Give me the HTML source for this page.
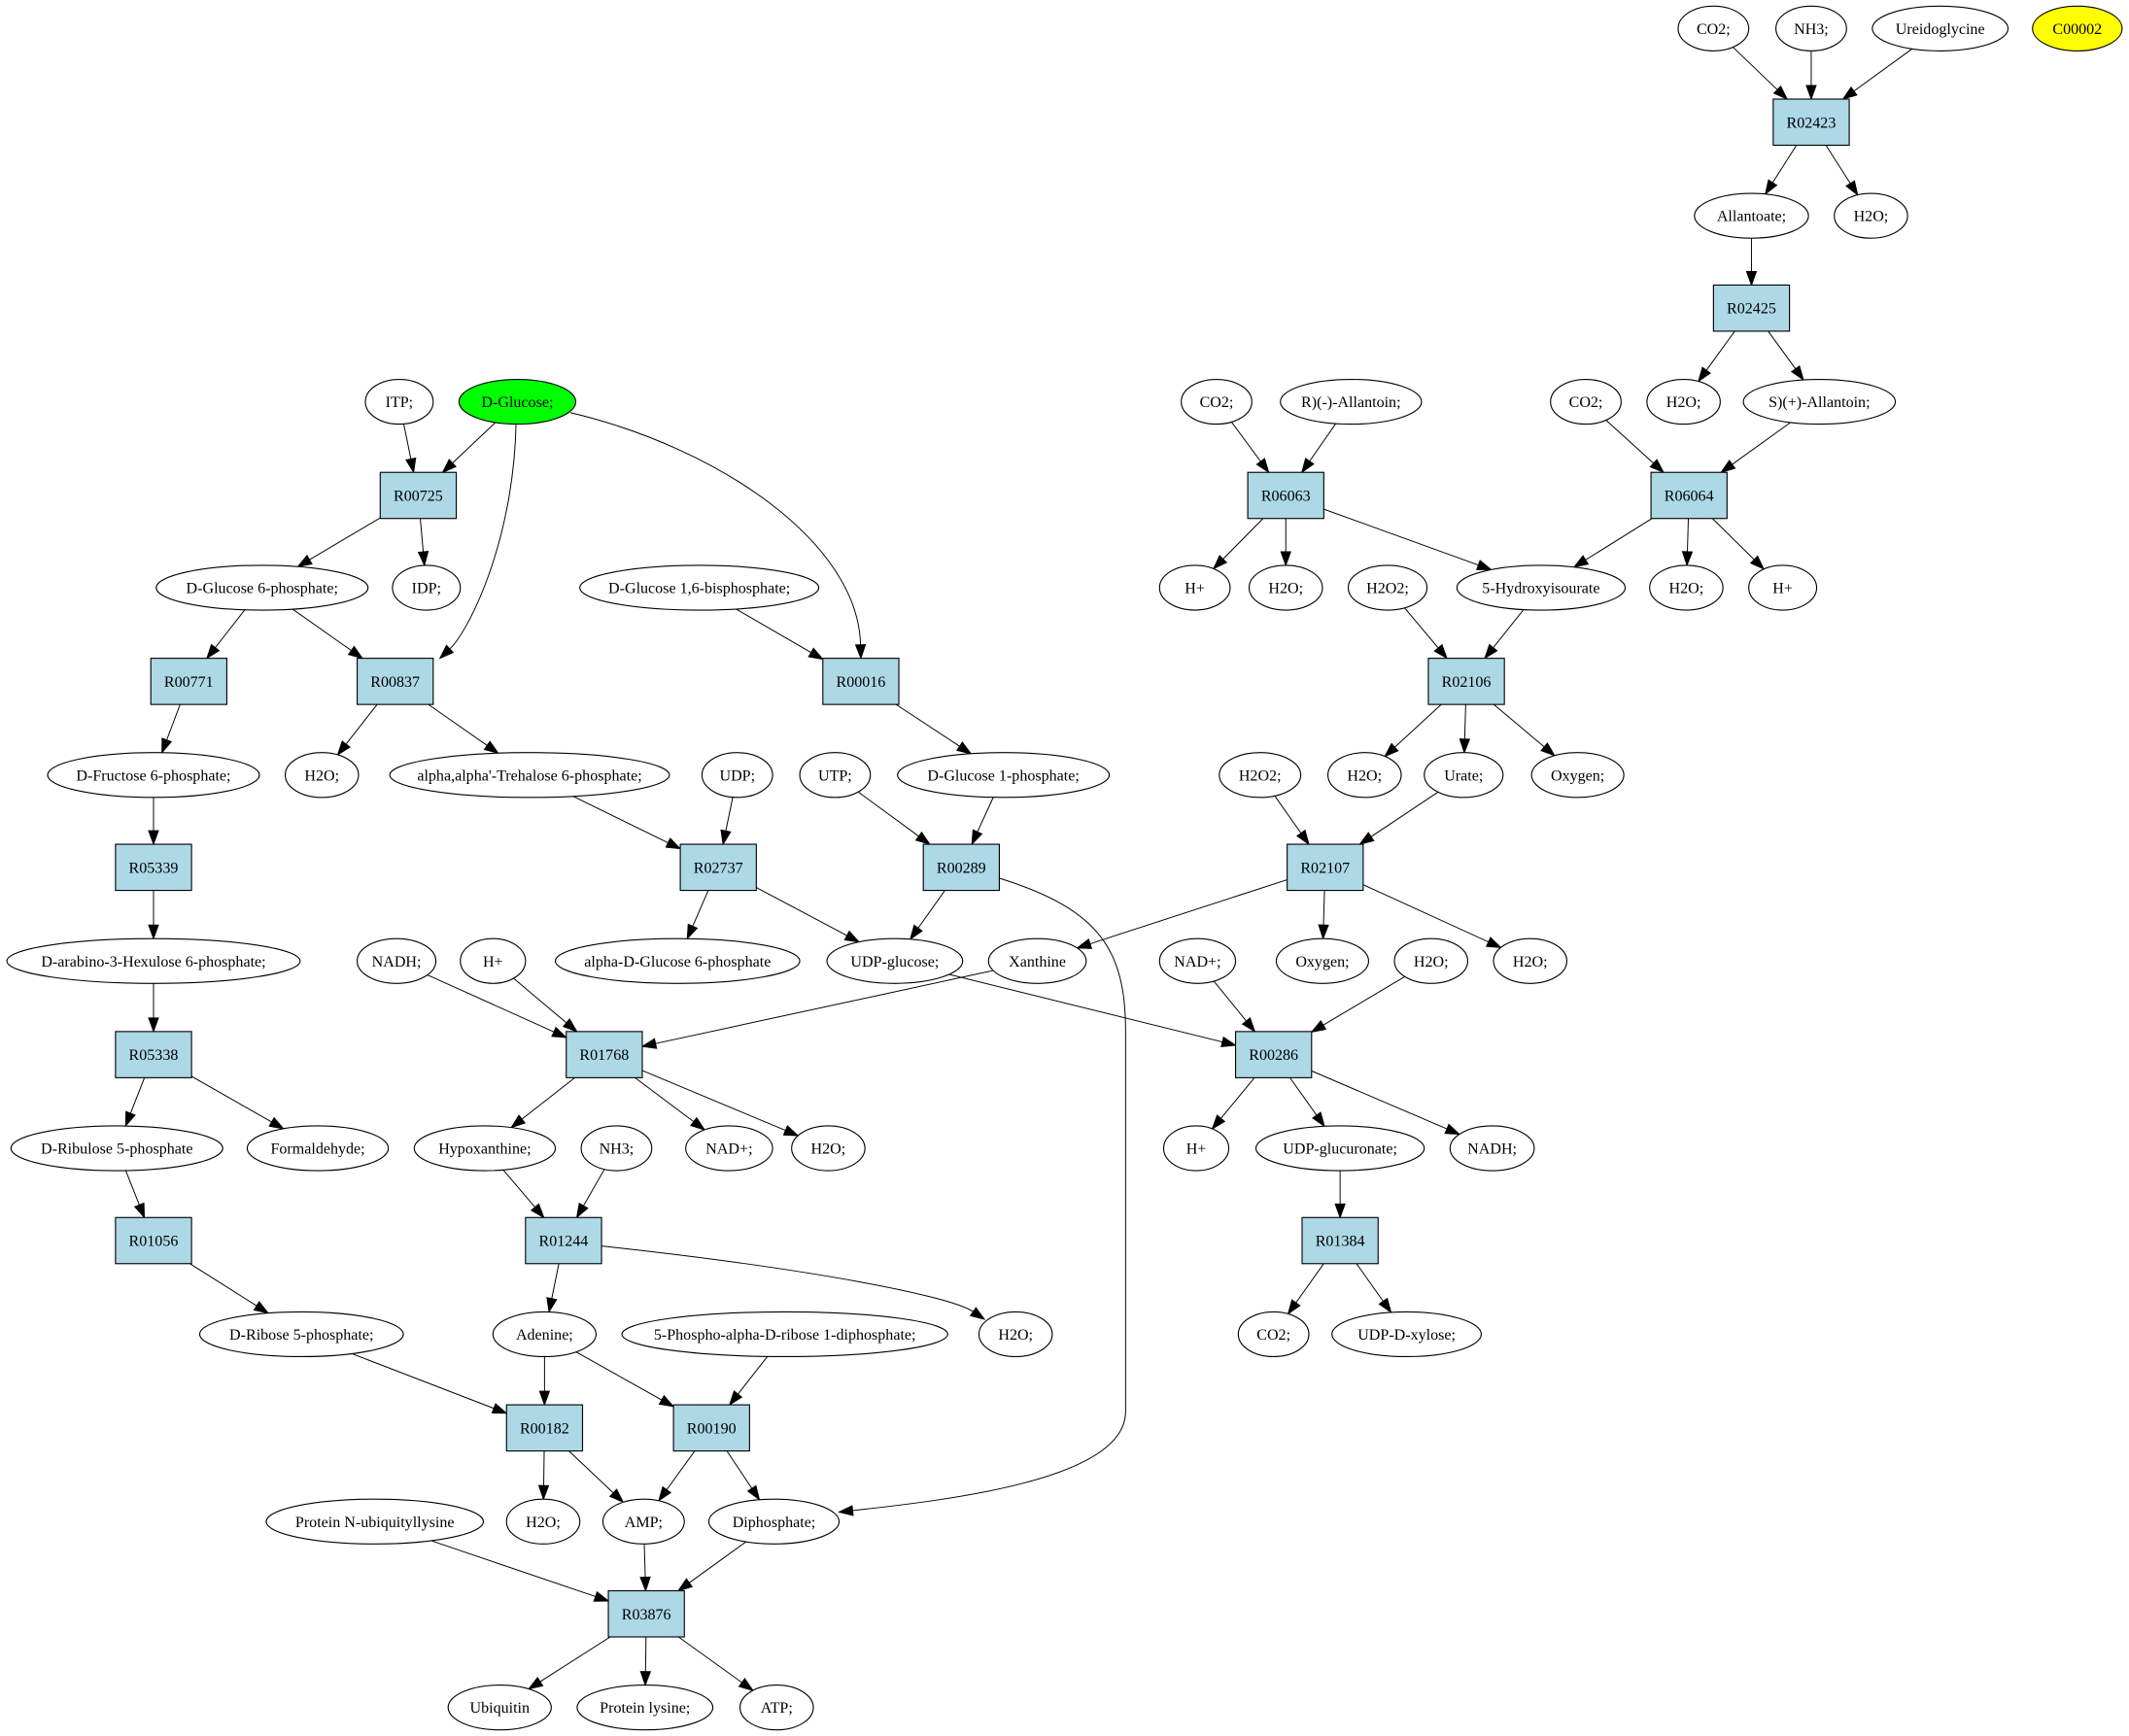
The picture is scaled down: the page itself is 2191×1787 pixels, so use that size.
<!DOCTYPE html>
<html><head><meta charset="utf-8"><style>
html,body{margin:0;padding:0;background:#fff;}
svg{display:block;}
text{font-family:"Liberation Serif",serif;font-size:11.5px;}
</style></head><body>
<svg id="g" width="2191" height="1787" viewBox="0 0 1568 1279" xmlns="http://www.w3.org/2000/svg">
<rect width="1568" height="1279" fill="#fff"/>
<g id="edges"></g><g id="nodes"></g>
</svg>
<script>
const N={};
function E(id,x,y,rx,label,fill){N[id]={t:'e',x,y,rx,ry:16.5,label,fill:fill||'#fff'};}
function B(id,x,y){N[id]={t:'b',x,y,w:56,h:34,label:id};}
E('co2a',1262,21,26,'CO2;');E('nh3a',1334,21,26,'NH3;');E('ureido',1429,21,50,'Ureidoglycine');E('c2',1530,21,33,'C00002','#ffff00');
B('R02423',1334,90);
E('allantoate',1290,159,42,'Allantoate;');E('h2oa',1378,159,27,'H2O;');
B('R02425',1290,227);
E('itp',294,296,25,'ITP;');E('glc',381,296,43,'D-Glucose;','#00ff00');E('co2b',896,296,26,'CO2;');E('rall',995,296,52,'R)(-)-Allantoin;');E('co2c',1168,296,26,'CO2;');E('h2ob',1240,296,27,'H2O;');E('sall',1340,296,56,'S)(+)-Allantoin;');
B('R00725',308,365);B('R06063',947,365);B('R06064',1244,365);
E('g6p',193,433,78,'D-Glucose 6-phosphate;');E('idp',314,433,25,'IDP;');E('g16',515,433,88,'D-Glucose 1,6-bisphosphate;');E('hp1',880,433,26,'H+');E('h2oc',947,433,27,'H2O;');E('h2o2a',1022,433,29,'H2O2;');E('hiu',1135,433,62,'5-Hydroxyisourate');E('h2od',1242,433,27,'H2O;');E('hp2',1313,433,25,'H+');
B('R00771',139,502);B('R00837',291,502);B('R00016',634,502);B('R02106',1080,502);
E('f6p',113,571,78,'D-Fructose 6-phosphate;');E('h2oh',237,571,27,'H2O;');E('treh',390,571,103,"alpha,alpha'-Trehalose 6-phosphate;");E('udp',543,571,26,'UDP;');E('utp',615,571,26,'UTP;');E('g1p',739,571,78,'D-Glucose 1-phosphate;');E('h2o2b',928,571,30,'H2O2;');E('h2oe',1005,571,27,'H2O;');E('urate',1078,571,29,'Urate;');E('oxy1',1162,571,34,'Oxygen;');
B('R05339',113,639);B('R02737',529,639);B('R00289',708,639);B('R02107',976,639);
E('hex',113,708,108,'D-arabino-3-Hexulose 6-phosphate;');E('nadh1',292,708,29,'NADH;');E('hp4',363,708,24,'H+');E('ag6p',499,708,90,'alpha-D-Glucose 6-phosphate');E('udpg',659,708,50,'UDP-glucose;');E('xan',764,708,36,'Xanthine');E('nad1',882,708,28,'NAD+;');E('oxy2',974,708,34,'Oxygen;');E('h2of',1054,708,27,'H2O;');E('h2og',1127,708,27,'H2O;');
B('R05338',113,777);B('R01768',445,777);B('R00286',938,777);
E('rib',86,846,78,'D-Ribulose 5-phosphate');E('form',234,846,52,'Formaldehyde;');E('hyp',357,846,52,'Hypoxanthine;');E('nh3b',454,846,26,'NH3;');E('nad2',537,846,32,'NAD+;');E('h2oi',610,846,27,'H2O;');E('hp3',881,846,24,'H+');E('udpgluc',987,846,62,'UDP-glucuronate;');E('nadh2',1099,846,31,'NADH;');
B('R01056',113,914);B('R01244',415,914);B('R01384',987,914);
E('r5p',222,983,75,'D-Ribose 5-phosphate;');E('ade',401,983,38,'Adenine;');E('prpp',578,983,120,'5-Phospho-alpha-D-ribose 1-diphosphate;');E('h2oj',748,983,27,'H2O;');E('co2d',938,983,26,'CO2;');E('udpx',1036,983,55,'UDP-D-xylose;');
B('R00182',401,1052);B('R00190',524,1052);
E('protn',276,1121,80,'Protein N-ubiquityllysine');E('h2ok',400,1121,27,'H2O;');E('amp',474,1121,30,'AMP;');E('pp',570,1121,48,'Diphosphate;');
B('R03876',476,1189);
E('ubq',368,1258,38,'Ubiquitin');E('plys',475,1258,50,'Protein lysine;');E('atp',572,1258,27,'ATP;');

const ED=`co2a R02423|nh3a R02423|ureido R02423|R02423 allantoate|R02423 h2oa|allantoate R02425|R02425 h2ob|R02425 sall|co2b R06063|rall R06063|R06063 hp1|R06063 h2oc|R06063 hiu|co2c R06064|sall R06064|R06064 hiu|R06064 h2od|R06064 hp2|h2o2a R02106|hiu R02106|R02106 h2oe|R02106 urate|R02106 oxy1|h2o2b R02107|urate R02107|R02107 xan|R02107 oxy2|R02107 h2og|nad1 R00286|h2of R00286|udpg R00286|R00286 hp3|R00286 udpgluc|R00286 nadh2|udpgluc R01384|R01384 co2d|R01384 udpx|itp R00725|glc R00725|R00725 g6p|R00725 idp|g6p R00771|g6p R00837|R00771 f6p|R00837 h2oh|R00837 treh|g16 R00016|R00016 g1p|f6p R05339|R05339 hex|hex R05338|R05338 rib|R05338 form|rib R01056|R01056 r5p|treh R02737|udp R02737|R02737 ag6p|R02737 udpg|utp R00289|g1p R00289|R00289 udpg|nadh1 R01768|hp4 R01768|xan R01768|R01768 hyp|R01768 nad2|R01768 h2oi|hyp R01244|nh3b R01244|R01244 ade|r5p R00182|ade R00182|ade R00190|prpp R00190|R00182 h2ok|R00182 amp|R00190 amp|R00190 pp|protn R03876|amp R03876|pp R03876|R03876 ubq|R03876 plys|R03876 atp`;

function clip(n,tx,ty){
  const dx=tx-n.x,dy=ty-n.y;
  if(n.t==='e'){const k=1/Math.sqrt(dx*dx/(n.rx*n.rx)+dy*dy/(n.ry*n.ry));return [n.x+dx*k,n.y+dy*k];}
  const k=Math.min(Math.abs(n.w/2/(dx||1e-9)),Math.abs(n.h/2/(dy||1e-9)));return [n.x+dx*k,n.y+dy*k];
}
let es='';
function arrow(px,py,ex,ey){
  const dx=ex-px,dy=ey-py,L=Math.hypot(dx,dy),ux=dx/L,uy=dy/L,al=10,aw=3.6;
  const bx=ex-ux*al,by=ey-uy*al;
  es+=`<polygon points="${ex},${ey} ${bx-uy*aw},${by+ux*aw} ${bx+uy*aw},${by-ux*aw}" fill="#000" stroke="#000" stroke-width="0.7"/>`;
  return [bx,by];
}
ED.split('|').forEach(p=>{const [a,b]=p.split(' ');const A=N[a],Bn=N[b];
  const s=clip(A,Bn.x,Bn.y),e=clip(Bn,A.x,A.y);
  const [bx,by]=arrow(s[0],s[1],e[0],e[1]);
  es+=`<line x1="${s[0]}" y1="${s[1]}" x2="${bx}" y2="${by}" stroke="#000" stroke-width="0.7"/>`;
});
function curve(d,cx,cy,ex,ey){const [bx,by]=arrow(cx,cy,ex,ey);es+=`<path d="${d} ${cx},${cy} ${bx},${by}" fill="none" stroke="#000" stroke-width="0.7"/>`;}
curve('M380,313 C378,400',345,465,324,485);
curve('M420,304 C530,330',632,400,634,485);
curve('M736,647 C810,670 829,700 829,760 L829,1040 C829,1090',700,1105,618,1114);
curve('M443,918 C600,935',700,955,725,972);
document.getElementById('edges').innerHTML=es;
let ns='';
for(const k in N){const n=N[k];
  if(n.t==='e')ns+=`<ellipse cx="${n.x}" cy="${n.y}" rx="${n.rx}" ry="${n.ry}" fill="${n.fill}" stroke="#000" stroke-width="0.8"/>`;
  else ns+=`<rect x="${n.x-n.w/2}" y="${n.y-n.h/2}" width="${n.w}" height="${n.h}" fill="#add8e6" stroke="#000" stroke-width="0.8"/>`;
  ns+=`<text x="${n.x}" y="${n.y+4}" text-anchor="middle">${n.label}</text>`;
}
document.getElementById('nodes').innerHTML=ns;
</script>
</body></html>
